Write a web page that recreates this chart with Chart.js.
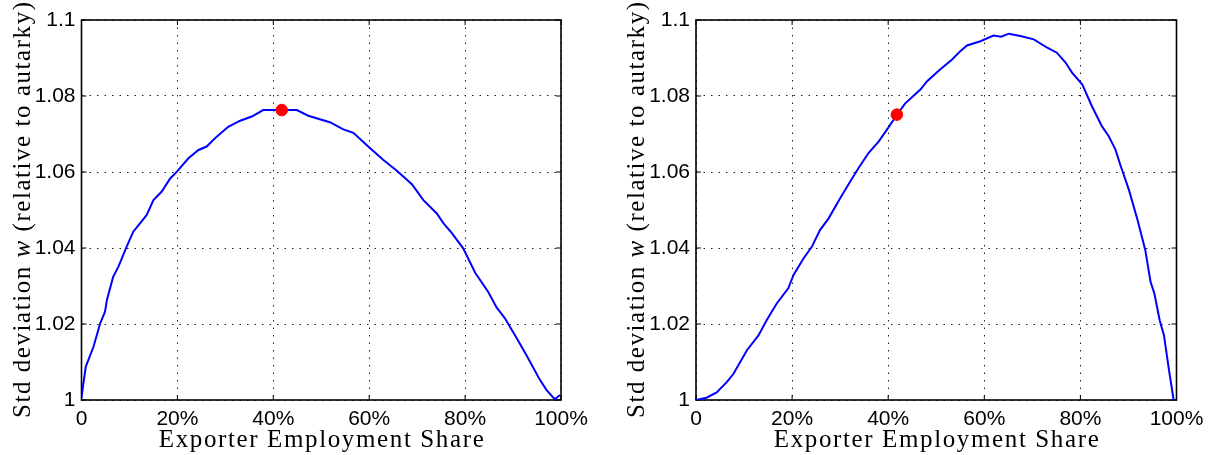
<!DOCTYPE html>
<html>
<head>
<meta charset="utf-8">
<script src="https://cdn.jsdelivr.net/npm/chart.js@4.4.1/dist/chart.umd.min.js"></script>
<style>
  body { margin: 0; background: #fff; width: 1213px; height: 455px; overflow: hidden; position: relative; }
  canvas { position: absolute; top: 0; }
  #leftChart { left: 0; }
  #rightChart { left: 615px; }
</style>
</head>
<body>
<canvas id="leftChart" width="600" height="455"></canvas>
<canvas id="rightChart" width="598" height="455"></canvas>
<script>
const xTicks = [0, 20, 40, 60, 80, 100];
const yTicks = [1, 1.02, 1.04, 1.06, 1.08, 1.1];

// left panel: exporter employment share (%) vs std deviation of w
const xLeft = [0, 0.3, 0.9, 2.5, 3.9, 4.9, 5.3, 6.6, 7.7, 9.4, 10.8, 12.2, 13.6, 15.0, 16.7, 18.5, 19.9, 22.3, 24.4, 26.1,
  28.2, 30.6, 33.1, 35.5, 37.9, 44.9, 47.3, 49.7, 51.8, 54.6, 56.7, 59.8, 62.9, 65.7, 68.9, 71.3, 74.1, 75.5, 77.2, 79.6,
  82.1, 84.8, 86.6, 88.3, 90.8, 92.8, 95.6, 97.0, 98.7, 99.8];
const yLeft = [1.0005, 1.0035, 1.0088, 1.014, 1.0202, 1.0232, 1.0263, 1.0324, 1.0351, 1.0403, 1.0443, 1.0465, 1.0487, 1.0526, 1.0548, 1.0583, 1.0601, 1.0636, 1.0658, 1.0667,
  1.0693, 1.0719, 1.0735, 1.0746, 1.0763, 1.0763, 1.0748, 1.0739, 1.0731, 1.0712, 1.0703, 1.0667, 1.0632, 1.0604, 1.0568, 1.0526, 1.0491, 1.0465, 1.044, 1.0399,
  1.0335, 1.0285, 1.0243, 1.0215, 1.0162, 1.0118, 1.0053, 1.0026, 1.0002, 1.0013];
const markerLeft = [41.75, 1.0763];

// right panel
const xRight = [0, 2.2, 4.3, 6.4, 7.8, 10.6, 13.0, 14.7, 16.8, 19.2, 20.3, 22.4, 24.1, 25.8, 27.6, 30.0, 32.1, 33.8, 35.9, 38.0,
  39.7, 41.8, 43.5, 46.7, 48.1, 50.8, 53.3, 55.0, 56.4, 59.2, 61.9, 63.5, 65.1, 67.5, 70.3, 73.1, 75.1, 76.9, 78.3, 80.4,
  82.4, 84.5, 85.9, 87.3, 88.3, 90.1, 91.8, 93.5, 94.6, 95.4, 96.5, 97.4, 98.4, 99.4];
const yRight = [1.0, 1.0006, 1.002, 1.0047, 1.0069, 1.0131, 1.017, 1.021, 1.0254, 1.0294, 1.0329, 1.0373, 1.0403, 1.0447, 1.0478, 1.0531, 1.0575, 1.061, 1.065, 1.068,
  1.0711, 1.075, 1.078, 1.0817, 1.0839, 1.087, 1.0896, 1.0918, 1.0933, 1.0944, 1.0959, 1.0956, 1.0964, 1.0958, 1.0949, 1.0927, 1.0914, 1.0888, 1.0861, 1.083,
  1.0773, 1.072, 1.0694, 1.0659, 1.0619, 1.0553, 1.0478, 1.0395, 1.0311, 1.028, 1.021, 1.017, 1.0082, 1.0];
const markerRight = [41.8, 1.0751];

const xTitle = [{ text: 'Exporter Employment Share' }];
const yTitle = [{ text: 'Std deviation ' }, { text: 'w', italic: true }, { text: ' (relative to autarky)' }];

const serif = '"Liberation Serif", "Times New Roman", serif';

// draw text pieces stretched with letter spacing so the whole thing spans targetWidth
function drawFitted(ctx, parts, cx, baseY, targetWidth, size) {
    const fontFor = p => (p.italic ? 'italic ' : '') + size + 'px ' + serif;
    let total = 0, chars = 0;
    ctx.letterSpacing = '0px';
    parts.forEach(p => {
        ctx.font = fontFor(p);
        total += ctx.measureText(p.text).width;
        chars += p.text.length;
    });
    const spacing = Math.max(0, (targetWidth - total) / (chars - 1));
    ctx.letterSpacing = spacing + 'px';
    let x = cx - targetWidth / 2;
    ctx.textAlign = 'left';
    ctx.textBaseline = 'alphabetic';
    parts.forEach(p => {
        ctx.font = fontFor(p);
        ctx.fillText(p.text, x, baseY);
        x += ctx.measureText(p.text).width;
    });
    ctx.letterSpacing = '0px';
}

const framePlugin = {
    id: 'frame',
    beforeDatasetsDraw(chart) {
        const { ctx, chartArea: a, scales: { x, y } } = chart;
        ctx.save();
        ctx.strokeStyle = '#000';
        ctx.lineWidth = 1;
        ctx.beginPath();
        xTicks.forEach(v => {
            const px = x.getPixelForValue(v);
            ctx.moveTo(px, a.bottom); ctx.lineTo(px, a.bottom - 5);
            ctx.moveTo(px, a.top); ctx.lineTo(px, a.top + 5);
        });
        yTicks.forEach(v => {
            const py = y.getPixelForValue(v);
            ctx.moveTo(a.left, py); ctx.lineTo(a.left + 5, py);
            ctx.moveTo(a.right, py); ctx.lineTo(a.right - 5, py);
        });
        ctx.stroke();
        ctx.lineWidth = 1.6;
        ctx.strokeRect(a.left, a.top, a.right - a.left, a.bottom - a.top);
        ctx.restore();
    },
    afterDraw(chart) {
        const { ctx, chartArea: a } = chart;
        ctx.save();
        ctx.fillStyle = '#000';
        drawFitted(ctx, xTitle, (a.left + a.right) / 2, 447, 325, 25);
        ctx.translate(a.left - 52, (a.top + a.bottom) / 2);
        ctx.rotate(-Math.PI / 2);
        drawFitted(ctx, yTitle, 0, 0, 416, 25);
        ctx.restore();
    }
};

function makeChart(id, xs, ys, marker, axisWidth, rightPad) {
    const ctx = document.getElementById(id).getContext('2d');
    const tickFont = { family: '"Liberation Sans", Arial, sans-serif', size: 21 };
    return new Chart(ctx, {
        type: 'line',
        data: {
            datasets: [{
                data: xs.map((v, i) => ({ x: v, y: ys[i] })),
                borderColor: '#0000ff',
                borderWidth: 2,
                pointRadius: 0,
                tension: 0,
                fill: false,
                order: 2
            }, {
                type: 'scatter',
                data: [{ x: marker[0], y: marker[1] }],
                pointRadius: 5.8,
                backgroundColor: '#ff0000',
                borderColor: '#ff0000',
                borderWidth: 1,
                order: 1
            }]
        },
        options: {
            responsive: false,
            animation: false,
            events: [],
            layout: { padding: { top: 20, right: rightPad, left: 0, bottom: 0 } },
            plugins: { legend: { display: false }, tooltip: { enabled: false } },
            scales: {
                x: {
                    type: 'linear',
                    min: 0,
                    max: 100,
                    afterFit: s => { s.height = 55; },
                    ticks: {
                        stepSize: 20,
                        padding: 7,
                        color: '#000',
                        font: tickFont,
                        maxRotation: 0,
                        callback: v => v === 0 ? '0' : v + '%'
                    },
                    grid: { color: '#222', lineWidth: 1, drawTicks: false },
                    border: { display: false, dash: [1.5, 6] }
                },
                y: {
                    min: 1,
                    max: 1.1,
                    afterFit: s => { s.width = axisWidth; },
                    ticks: {
                        stepSize: 0.02,
                        padding: 6,
                        color: '#000',
                        font: tickFont,
                        callback: v => Number(v.toFixed(2)).toString()
                    },
                    grid: { color: '#222', lineWidth: 1, drawTicks: false },
                    border: { display: false, dash: [1.5, 6] }
                }
            }
        },
        plugins: [framePlugin]
    });
}

makeChart('leftChart', xLeft, yLeft, markerLeft, 81.5, 39);
makeChart('rightChart', xRight, yRight, markerRight, 81, 36.5);
</script>
</body>
</html>
